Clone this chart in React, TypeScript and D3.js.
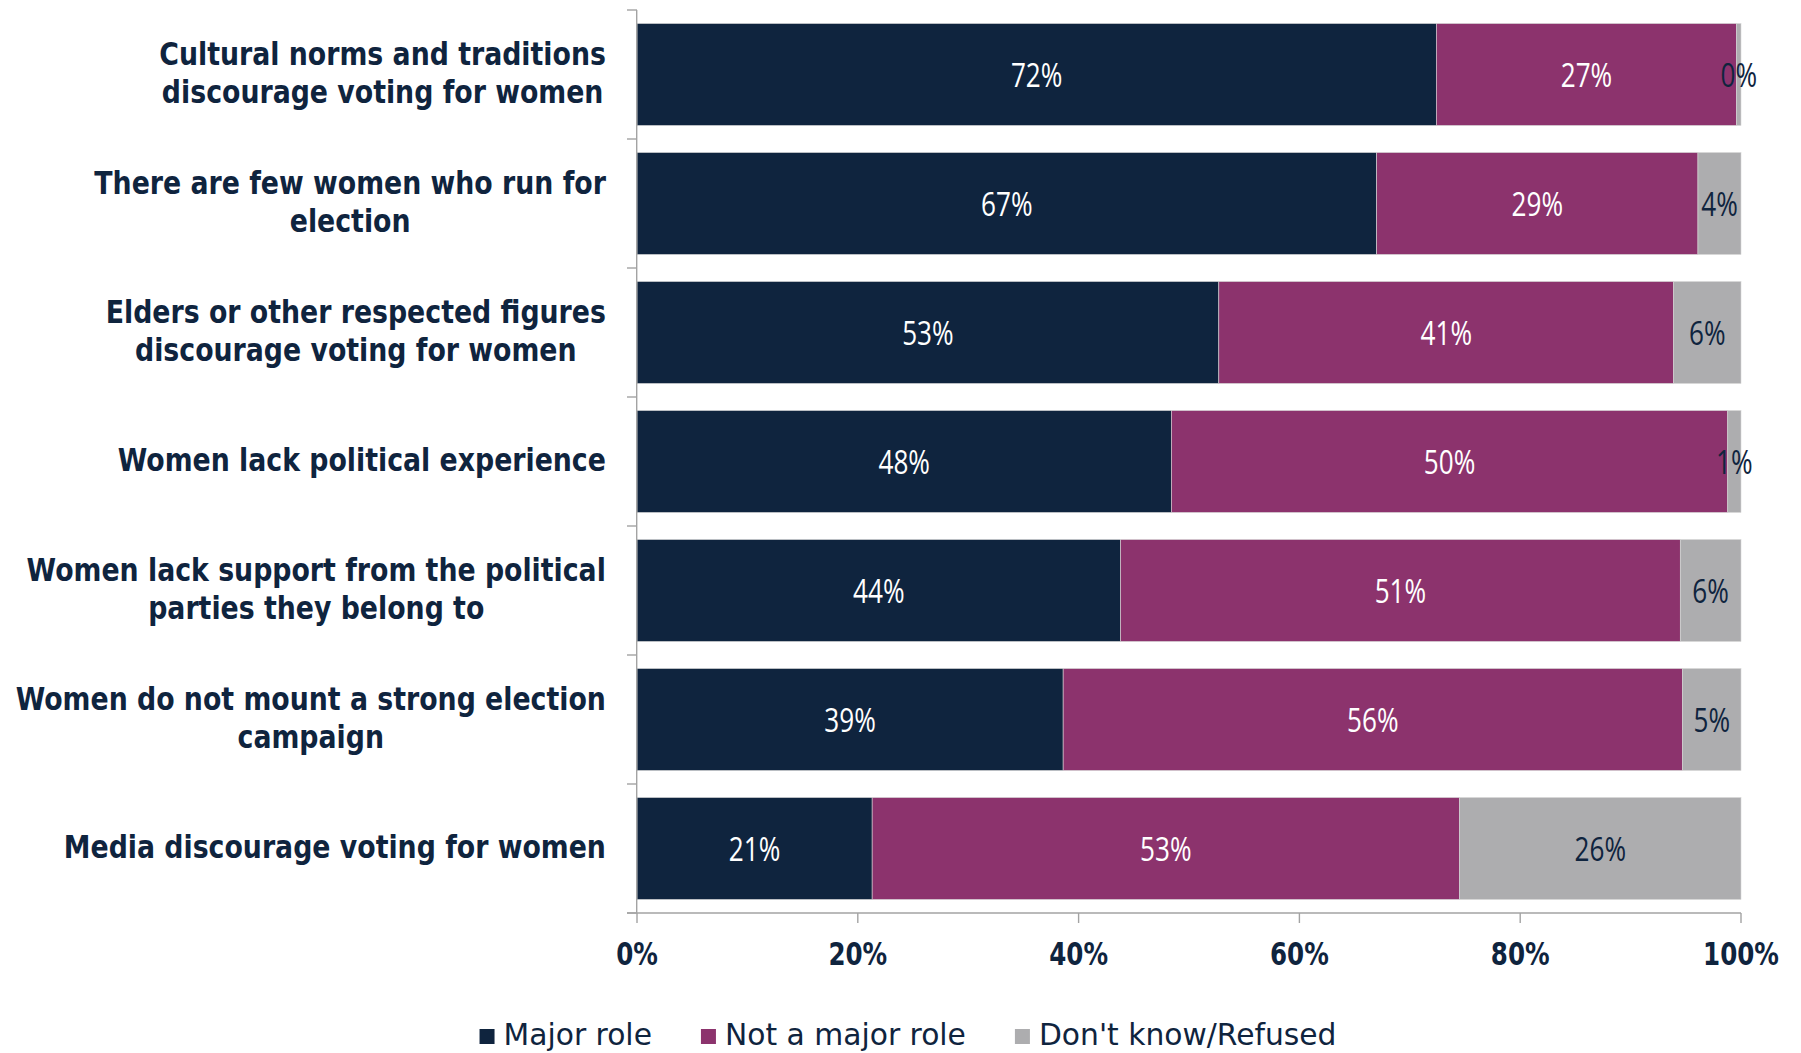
import React, { useEffect, useRef } from "react";
import * as d3 from "d3";

const categories = [
  "Cultural norms and traditions\ndiscourage voting for women",
  "There are few women who run for\nelection",
  "Elders or other respected figures\ndiscourage voting for women",
  "Women lack political experience",
  "Women lack support from the political\nparties they belong to",
  "Women do not mount a strong election\ncampaign",
  "Media discourage voting for women",
];
const seriesNames = ["Major role", "Not a major role", "Don't know/Refused"];
const majorRole = [72.4, 67.0, 52.7, 48.4, 43.8, 38.6, 21.3];
const notMajorRole = [27.2, 29.1, 41.2, 50.4, 50.7, 56.1, 53.2];
const dontKnow = [0.4, 3.9, 6.1, 1.2, 5.5, 5.3, 25.5];
const xTicks = [0, 20, 40, 60, 80, 100];
const colors = ["#0F243E", "#8C336D", "#ADADAF"];
const labelColors = ["#FFFFFF", "#FFFFFF", "#0F243E"];

const W = 1801;
const H = 1053;
const NAVY = "#0F243E";
const AXIS = "#A3A3A3";

export default function App() {
  const ref = useRef<SVGSVGElement | null>(null);

  useEffect(() => {
    const svg = d3.select(ref.current);
    svg.selectAll("*").remove();

    const keys = ["a", "b", "c"];
    const rows = categories.map((c, i) => ({
      cat: c,
      a: majorRole[i],
      b: notMajorRole[i],
      c: dontKnow[i],
    }));
    const stacked = d3.stack<any>().keys(keys)(rows);

    const x = d3.scaleLinear().domain([0, 100]).range([637, 1741]);
    const y = d3
      .scaleBand<string>()
      .domain(categories)
      .range([10, 913])
      .paddingInner(0.21)
      .paddingOuter(0.105);

    // bars
    stacked.forEach((layer, li) => {
      const g = svg.append("g");
      g.selectAll("rect")
        .data(layer)
        .join("rect")
        .attr("x", (d: any) => x(d[0]))
        .attr("y", (d: any) => y(d.data.cat)!)
        .attr("width", (d: any) => Math.max(0, x(d[1]) - x(d[0])))
        .attr("height", y.bandwidth())
        .attr("fill", colors[li])
        .attr("stroke", "#d6d6d6")
        .attr("stroke-width", 0.6);
    });

    // value labels
    stacked.forEach((layer, li) => {
      const g = svg.append("g");
      layer.forEach((d: any) => {
        const cx = (x(d[0]) + x(d[1])) / 2;
        const cy = y(d.data.cat)! + y.bandwidth() / 2;
        g.append("g")
          .attr("transform", `translate(${cx},${cy + 12}) scale(0.78,1)`)
          .append("text")
          .attr("text-anchor", "middle")
          .attr("font-family", "'Open Sans', sans-serif")
          .attr("font-size", 33.5)
          .attr("fill", labelColors[li])
          .text(`${Math.round(d[1] - d[0])}%`);
      });
    });

    // y axis
    const step = y.step();
    const y0 = 10;
    svg.append("line")
      .attr("x1", 636.7).attr("x2", 636.7)
      .attr("y1", y0).attr("y2", 913)
      .attr("stroke", AXIS).attr("stroke-width", 1.4);
    d3.range(categories.length + 1).forEach((i) => {
      svg.append("line")
        .attr("x1", 627).attr("x2", 637)
        .attr("y1", y0 + i * step).attr("y2", y0 + i * step)
        .attr("stroke", AXIS).attr("stroke-width", 1.4);
    });

    // x axis
    svg.append("line")
      .attr("x1", 627).attr("x2", 1741)
      .attr("y1", 913).attr("y2", 913)
      .attr("stroke", AXIS).attr("stroke-width", 1.6);
    xTicks.forEach((t) => {
      svg.append("line")
        .attr("x1", x(t)).attr("x2", x(t))
        .attr("y1", 913).attr("y2", 923)
        .attr("stroke", AXIS).attr("stroke-width", 1.4);
      svg.append("g")
        .attr("transform", `translate(${x(t)},964.5) scale(0.78,1)`)
        .append("text")
        .attr("text-anchor", "middle")
        .attr("font-family", "'DejaVu Sans', sans-serif")
        .attr("font-weight", "bold")
        .attr("font-size", 31.5)
        .attr("fill", NAVY)
        .text(`${t}%`);
    });

    // category labels
    const labSX = 0.85;
    const rightEdge = 606;
    categories.forEach((c) => {
      const lines = c.split("\n");
      const cy = y(c)! + y.bandwidth() / 2;
      const g = svg.append("g");
      const texts = lines.map((ln, i) => {
        const gg = g.append("g");
        const t = gg
          .append("text")
          .attr("text-anchor", "middle")
          .attr("font-family", "'DejaVu Sans', sans-serif")
          .attr("font-weight", "bold")
          .attr("font-size", 31.5)
          .attr("fill", NAVY)
          .text(ln);
        return { gg, t, i };
      });
      const maxW = d3.max(texts, (o) => (o.t.node() as SVGTextElement).getComputedTextLength())! * labSX;
      const cx = rightEdge - maxW / 2;
      texts.forEach(({ gg, i }) => {
        const by = cy + (i - (lines.length - 1) / 2) * 38 + 9.5;
        gg.attr("transform", `translate(${cx},${by}) scale(${labSX},1)`);
      });
    });

    // legend
    const legSX = 0.96;
    const leg = svg.append("g");
    const items = seriesNames.map((name, i) => {
      const gi = leg.append("g");
      gi.append("rect")
        .attr("x", 0).attr("y", 1029)
        .attr("width", 15).attr("height", 15)
        .attr("fill", colors[i]);
      const tg = gi.append("g").attr("transform", `translate(24,1045) scale(${legSX},1)`);
      const t = tg.append("text")
        .attr("x", 0).attr("y", 0)
        .attr("font-family", "'DejaVu Sans', sans-serif")
        .attr("font-size", 31)
        .attr("fill", NAVY)
        .text(name);
      const w = 24 + (t.node() as SVGTextElement).getComputedTextLength() * legSX;
      return { gi, w };
    });
    const gap = 49;
    const total = d3.sum(items, (o) => o.w) + gap * (items.length - 1);
    let cur = 908 - total / 2;
    items.forEach((o) => {
      o.gi.attr("transform", `translate(${cur},0)`);
      cur += o.w + gap;
    });
  }, []);

  return (
    <svg
      ref={ref}
      width={W}
      height={H}
      style={{ position: "absolute", left: 0, top: 0, background: "#fff" }}
    />
  );
}
